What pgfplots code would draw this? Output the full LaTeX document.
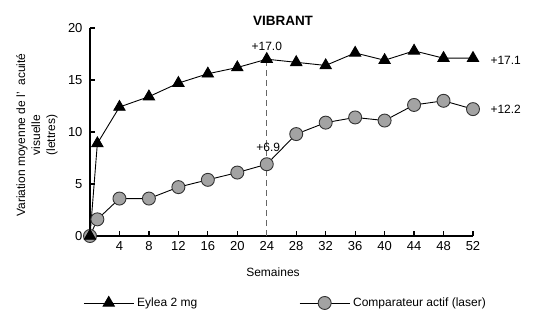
\documentclass[border=0pt]{standalone}
\usepackage{pgfplots}
\pgfplotsset{compat=1.18}
\usepackage{fontspec}
\setmainfont{Liberation Sans}
\definecolor{circfill}{HTML}{A3A3A3}
\definecolor{circline}{HTML}{333333}
\begin{document}
\begin{tikzpicture}
\useasboundingbox (0,0) rectangle (547pt,327pt);
\begin{axis}[
  at={(90pt,91pt)}, anchor=south west,
  scale only axis, width=383pt, height=208pt,
  xmin=0, xmax=52, ymin=0, ymax=20,
  clip=false,
  axis x line*=bottom, axis y line*=left,
  axis line style={-, line width=1.5pt, black},
  tick align=inside, major tick length=5pt,
  tick style={line width=1.3pt, black},
  xtick={4,8,...,52}, ytick={0,5,10,15,20},
  /pgf/number format/assume math mode=true,
  ticklabel style={font=\fontsize{13}{15}\selectfont},
  yticklabel style={xshift=-4pt},
  xticklabel style={yshift=-2pt},
  reverse legend,
  legend columns=2,
  legend style={at={(axis description cs:-0.018,-0.322)}, anchor=west, draw=none, fill=none,
    font=\fontsize{12}{14}\selectfont, inner sep=0pt,
    /tikz/every odd column/.append style={column sep=1pt},
    /tikz/every even column/.append style={column sep=100pt}},
  legend image code/.code={\draw[mark repeat=2,mark phase=2,#1] plot coordinates {(0pt,0pt) (25pt,0pt) (50pt,0pt)};},
]
\addplot[gray!80!black, dashed, dash pattern=on 6pt off 4pt, line width=1pt, forget plot] coordinates {(24,0) (24,17.0)};
\addplot[black, line width=0.9pt, mark=*, mark size=6.5pt, mark options={fill=circfill, draw=circline, line width=0.9pt}] coordinates {
(0,0) (1,1.6) (4,3.6) (8,3.6) (12,4.7) (16,5.4) (20,6.1) (24,6.9) (28,9.8) (32,10.9) (36,11.4) (40,11.1) (44,12.6) (48,13.0) (52,12.2)};
\addlegendentry{Comparateur actif (laser)}
\addplot[black, line width=0.9pt, mark=triangle*, mark size=6.5pt, mark options={fill=black, draw=black}] coordinates {
(0,0) (1,8.9) (4,12.4) (8,13.4) (12,14.7) (16,15.6) (20,16.2) (24,17.0) (28,16.7) (32,16.4) (36,17.6) (40,16.9) (44,17.8) (48,17.1) (52,17.1)};
\addlegendentry{Eylea 2 mg}
\node[font=\fontsize{12}{14}\selectfont] at (axis cs:24,18.25) {+17.0};
\node[font=\fontsize{12}{14}\selectfont] at (axis cs:24.2,8.5) {+6.9};
\node[font=\fontsize{12}{14}\selectfont, anchor=west] at (axis cs:53.9,16.9) {+17.1};
\node[font=\fontsize{12}{14}\selectfont, anchor=west] at (axis cs:53.9,12.2) {+12.2};
\end{axis}
\node[font=\fontsize{13.5}{16}\selectfont\bfseries] at (283pt,306pt) {VIBRANT};
\node[font=\fontsize{12}{14}\selectfont] at (273pt,55pt) {Semaines};
\node[font=\fontsize{12}{15}\selectfont, rotate=90, align=center] at (37pt,192pt) {Variation moyenne de l’ \ acuité\\visuelle\\(lettres)};
\end{tikzpicture}
\end{document}
